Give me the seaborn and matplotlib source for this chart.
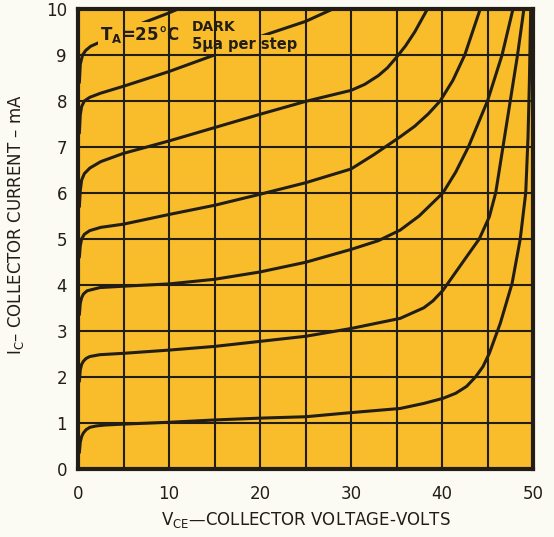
import numpy as np
import pandas as pd
import matplotlib
matplotlib.use("Agg")
import matplotlib.pyplot as plt
import seaborn as sns

# ---- data (V_CE in volts, I_C in mA) ----
x_ticks = [0, 10, 20, 30, 40, 50]
x_grid = [0, 5, 10, 15, 20, 25, 30, 35, 40, 45, 50]
y_ticks = [0, 1, 2, 3, 4, 5, 6, 7, 8, 9, 10]

v1 = [0.15, 0.25, 0.4, 0.6, 0.9, 1.3, 2, 3, 5, 10, 15, 20, 25, 30, 35.4, 38, 40.1, 41.5,
      42.7, 43.7, 44.5, 45.2, 46.4, 47.7, 48.6, 49.2, 49.45, 49.6, 49.7, 49.75]
i1 = [0.35, 0.58, 0.7, 0.78, 0.85, 0.9, 0.93, 0.95, 0.97, 1.01, 1.06, 1.1, 1.13, 1.22,
      1.31, 1.42, 1.53, 1.64, 1.79, 2.0, 2.22, 2.51, 3.16, 4.03, 5.0, 6.0, 7.2, 8.4, 9.5, 10.0]

v2 = [0.15, 0.25, 0.4, 0.6, 0.9, 1.3, 2.4, 5, 10, 15, 20, 25, 30, 35.4, 38, 39, 40.1, 42.7,
      44.1, 45.2, 45.9, 46.7, 47.5, 48.3, 49.0]
i2 = [1.9, 2.15, 2.27, 2.34, 2.4, 2.44, 2.48, 2.51, 2.58, 2.66, 2.77, 2.88, 3.05, 3.27,
      3.5, 3.65, 3.88, 4.61, 5.0, 5.48, 6.0, 7.0, 8.0, 9.0, 10.0]

v3 = [0.15, 0.25, 0.4, 0.6, 1.0, 2.4, 5, 10, 15, 20, 25, 30, 33, 35.4, 37.5, 40.1, 41.5,
      42.9, 45.0, 46.6, 47.8]
i3 = [3.35, 3.6, 3.72, 3.8, 3.87, 3.94, 3.97, 4.02, 4.12, 4.28, 4.49, 4.77, 4.96, 5.19,
      5.5, 6.0, 6.45, 7.0, 8.0, 9.0, 10.0]

v4 = [0.15, 0.25, 0.4, 0.7, 1.3, 2.5, 5, 10, 15, 20, 25, 30, 32.5, 35.4, 37, 38.5, 39.8,
      41.2, 42.5, 44.2]
i4 = [4.6, 4.85, 5.0, 5.1, 5.18, 5.25, 5.32, 5.53, 5.73, 5.97, 6.22, 6.52, 6.83, 7.22,
      7.45, 7.72, 8.0, 8.45, 9.0, 10.0]

v5 = [0.15, 0.25, 0.4, 0.7, 1.3, 2.5, 5, 10, 15, 20, 25, 30, 31.5, 33, 34, 35, 36, 37, 38.4]
i5 = [5.7, 6.05, 6.28, 6.42, 6.54, 6.68, 6.86, 7.13, 7.42, 7.71, 7.99, 8.23, 8.36, 8.55,
      8.72, 8.95, 9.2, 9.5, 10.0]

v6 = [0.15, 0.25, 0.4, 0.7, 1.3, 2.5, 5, 10, 15, 20, 25, 28]
i6 = [7.3, 7.7, 7.88, 8.0, 8.08, 8.17, 8.32, 8.64, 9.0, 9.4, 9.73, 10.0]

v7 = [0.15, 0.25, 0.5, 0.85, 1.4, 2.3, 4, 6.5, 9.8, 11.0]
i7 = [8.4, 8.8, 9.0, 9.1, 9.19, 9.27, 9.45, 9.65, 9.9, 10.0]

curves = {"c1": (v1, i1), "c2": (v2, i2), "c3": (v3, i3), "c4": (v4, i4),
          "c5": (v5, i5), "c6": (v6, i6), "c7": (v7, i7)}

df = pd.concat([pd.DataFrame({"V": v, "I": i, "curve": k}) for k, (v, i) in curves.items()],
               ignore_index=True)

# ---- style ----
sns.set_theme(style="white")
plt.rcParams["font.family"] = ["DejaVu Sans"]
plt.rcParams["mathtext.default"] = "regular"

ink = "#231e15"
yellow = "#F9BD2C"

fig = plt.figure(figsize=(5.54, 5.37), dpi=100, facecolor="#FBFAF3")
ax = fig.add_axes([0.1408, 0.1272, 0.8213, 0.856])
ax.set_facecolor(yellow)

sns.lineplot(data=df, x="V", y="I", units="curve", estimator=None, sort=False,
             color=ink, linewidth=2.2, legend=False, ax=ax, zorder=2)
for ln in ax.get_lines():
    ln.set_solid_joinstyle("round")
    ln.set_solid_capstyle("round")

ax.set_xlim(0, 50)
ax.set_ylim(0, 10)
ax.set_xticks(x_ticks)
ax.set_xticks(x_grid, minor=True)
ax.set_yticks(y_ticks)
ax.tick_params(axis="both", which="both", length=0, labelsize=12, colors=ink)
ax.tick_params(axis="x", pad=12)
ax.tick_params(axis="y", pad=8)
ax.grid(True, axis="x", which="both", color=ink, linewidth=1.5)
ax.grid(True, axis="y", which="major", color=ink, linewidth=1.5)
ax.xaxis.set_zorder(4)
ax.yaxis.set_zorder(4)
for s in ax.spines.values():
    s.set_visible(True)
    s.set_color(ink)
    s.set_linewidth(3)
    s.set_zorder(5)

ax.set_xlabel(r"$\mathregular{V_{CE}}$—COLLECTOR VOLTAGE-VOLTS", fontsize=12,
              color=ink, labelpad=5)
ax.set_ylabel(r"$\mathregular{I_C}$– COLLECTOR CURRENT – mA", fontsize=12,
              color=ink, labelpad=10)
ax.yaxis.set_label_coords(-0.115, 0.53)

bb = dict(facecolor=yellow, edgecolor="none", pad=1.5)
ax.text(2.4, 9.32, r"$\mathregular{T_A}$=25°C", fontsize=12, fontweight="bold",
        color=ink, va="baseline", ha="left", bbox=bb, zorder=3)
ax.text(12.5, 9.52, "DARK", fontsize=10, fontweight="bold", color=ink,
        va="baseline", ha="left", bbox=bb, zorder=3)
ax.text(12.5, 9.13, "5μa per step", fontsize=10.5, fontweight="bold", color=ink,
        va="baseline", ha="left", bbox=bb, zorder=3)

fig.savefig("out.png", dpi=100, facecolor=fig.get_facecolor())
